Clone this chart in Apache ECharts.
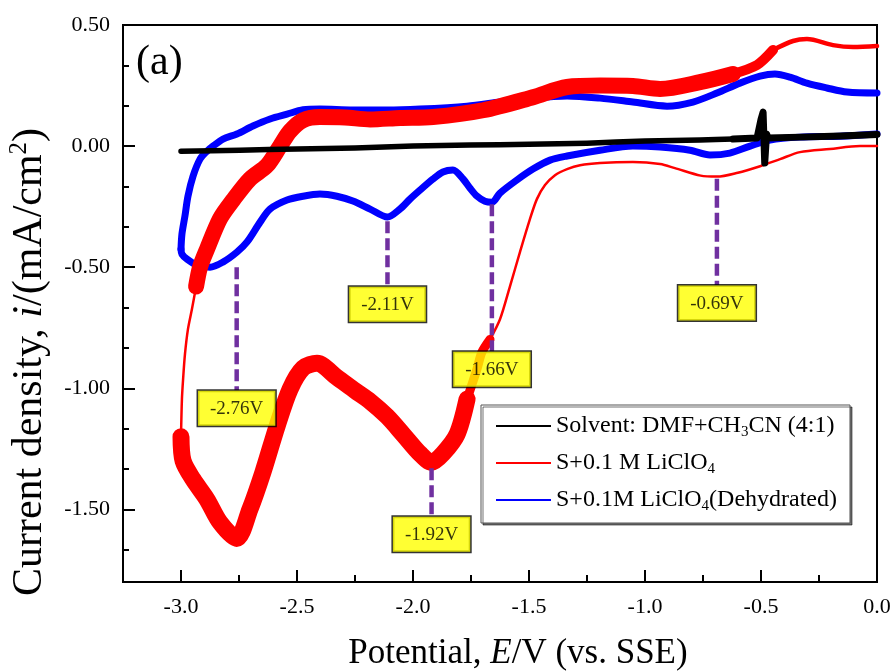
<!DOCTYPE html>
<html>
<head>
<meta charset="utf-8">
<script src="https://cdn.jsdelivr.net/npm/echarts@6/dist/echarts.min.js"></script>
<style>
  html, body { margin: 0; padding: 0; background: #ffffff; }
  #chart { width: 896px; height: 672px; }
</style>
</head>
<body>
<div id="chart"></div>
<script>
// Cyclic voltammograms: potential E (V vs. SSE) against current density i (mA/cm2)

// Axis ticks
const potentialTicks = [-3.0, -2.5, -2.0, -1.5, -1.0, -0.5, 0.0];
const potentialMinorTicks = [-2.75, -2.25, -1.75, -1.25, -0.75, -0.25];
const currentTicks = [-1.5, -1.0, -0.5, 0.0, 0.5];

// Solvent only: DMF + CH3CN (4:1)
const solventScan = [
  [-3.000, -0.021], [-2.746, -0.017], [-2.500, -0.012], [-2.250, -0.008], [-2.000, 0.000],
  [-1.754, 0.004], [-1.500, 0.008], [-1.250, 0.012], [-1.000, 0.021], [-0.763, 0.025], [-0.620, 0.029]
];
const solventNoisyEnd = [
  [-0.620, 0.029], [-0.517, 0.033], [-0.500, 0.110], [-0.491, 0.140], [-0.484, -0.070],
  [-0.476, 0.050], [-0.470, 0.033], [-0.332, 0.037], [-0.159, 0.042], [0.000, 0.048]
];

// S + 0.1 M LiClO4, cathodic sweep (0 V -> -3.0 V)
const liCathodicThin = [
  [0.000, 0.000], [-0.073, 0.000], [-0.203, -0.012], [-0.332, -0.025], [-0.418, -0.054],
  [-0.504, -0.083], [-0.600, -0.110], [-0.690, -0.126], [-0.760, -0.122], [-0.871, -0.091],
  [-0.935, -0.074], [-1.052, -0.066], [-1.194, -0.070], [-1.280, -0.079], [-1.336, -0.095],
  [-1.388, -0.120], [-1.431, -0.161], [-1.466, -0.219], [-1.496, -0.302], [-1.539, -0.438],
  [-1.582, -0.579], [-1.625, -0.715], [-1.668, -0.798]
];
const liCathodicShoulder = [
  [-1.668, -0.798], [-1.703, -0.851], [-1.724, -0.920], [-1.767, -1.045]
];
const liCathodicBand = [
  [-1.767, -1.045], [-1.810, -1.190], [-1.871, -1.270], [-1.920, -1.306], [-1.970, -1.270],
  [-2.043, -1.190], [-2.112, -1.116], [-2.185, -1.054], [-2.250, -1.010], [-2.328, -0.955],
  [-2.414, -0.897], [-2.474, -0.917], [-2.530, -1.004], [-2.586, -1.157], [-2.647, -1.347],
  [-2.703, -1.500], [-2.760, -1.620], [-2.832, -1.554], [-2.888, -1.459], [-2.948, -1.376],
  [-2.991, -1.300], [-3.000, -1.200]
];
// S + 0.1 M LiClO4, anodic sweep (-3.0 V -> 0 V)
const liAnodicThin = [
  [-3.000, -1.200], [-2.996, -1.045], [-2.991, -0.963], [-2.983, -0.860], [-2.970, -0.756],
  [-2.953, -0.674], [-2.935, -0.580]
];
const liAnodicBand = [
  [-2.935, -0.580], [-2.918, -0.500], [-2.888, -0.426], [-2.832, -0.300], [-2.776, -0.223],
  [-2.703, -0.136], [-2.629, -0.080], [-2.573, 0.000], [-2.530, 0.062], [-2.474, 0.107],
  [-2.401, 0.120], [-2.293, 0.118], [-2.185, 0.110], [-2.056, 0.116], [-1.914, 0.120],
  [-1.698, 0.148], [-1.483, 0.202], [-1.336, 0.244], [-1.194, 0.250], [-1.052, 0.248],
  [-0.935, 0.236], [-0.763, 0.264], [-0.621, 0.298]
];
const liAnodicShoulder = [
  [-0.621, 0.298], [-0.517, 0.335], [-0.448, 0.397]
];
const liAnodicTail = [
  [-0.448, 0.397], [-0.362, 0.434], [-0.302, 0.442], [-0.190, 0.417], [-0.103, 0.409], [0.000, 0.413]
];

// S + 0.1 M LiClO4 (dehydrated), full cycle
const dryCathodic = [
  [0.000, 0.050], [-0.159, 0.041], [-0.332, 0.037], [-0.461, 0.025], [-0.547, 0.000],
  [-0.634, -0.029], [-0.720, -0.037], [-0.806, -0.017], [-0.935, -0.004], [-1.052, 0.000],
  [-1.194, -0.017], [-1.336, -0.041], [-1.409, -0.058], [-1.483, -0.095], [-1.552, -0.140],
  [-1.625, -0.194], [-1.660, -0.232], [-1.690, -0.228], [-1.724, -0.207], [-1.754, -0.174],
  [-1.784, -0.136], [-1.828, -0.099], [-1.871, -0.107], [-1.914, -0.136], [-1.970, -0.182],
  [-2.013, -0.219], [-2.056, -0.260], [-2.110, -0.293], [-2.185, -0.260], [-2.259, -0.227],
  [-2.328, -0.207], [-2.401, -0.198], [-2.474, -0.207], [-2.543, -0.223], [-2.616, -0.260],
  [-2.659, -0.314], [-2.716, -0.397], [-2.759, -0.438], [-2.819, -0.479], [-2.875, -0.500],
  [-2.931, -0.492], [-2.974, -0.467], [-2.996, -0.446], [-3.000, -0.426]
];
const dryAnodic = [
  [-3.000, -0.426], [-2.996, -0.364], [-2.983, -0.289], [-2.970, -0.207], [-2.948, -0.124],
  [-2.918, -0.054], [-2.888, -0.021], [-2.862, 0.000], [-2.819, 0.029], [-2.759, 0.050],
  [-2.690, 0.083], [-2.616, 0.112], [-2.543, 0.132], [-2.474, 0.150], [-2.401, 0.153],
  [-2.259, 0.149], [-2.112, 0.149], [-1.970, 0.153], [-1.767, 0.165], [-1.625, 0.182],
  [-1.483, 0.198], [-1.336, 0.207], [-1.194, 0.198], [-1.052, 0.182], [-0.905, 0.165],
  [-0.793, 0.182], [-0.690, 0.219], [-0.591, 0.260], [-0.504, 0.289], [-0.440, 0.298],
  [-0.375, 0.285], [-0.302, 0.260], [-0.216, 0.240], [-0.129, 0.223], [0.000, 0.219]
];

// Peak annotations
const peakLabels = ['-2.76V', '-2.11V', '-1.92V', '-1.66V', '-0.69V'];
const peakPotentials = [-2.76, -2.11, -1.92, -1.66, -0.69];
const peakCurrents = [-0.50, -0.31, -1.33, -0.24, -0.135];
const calloutLevels = [-1.008, -0.579, -1.529, -0.847, -0.574];

const solventName = 'Solvent: DMF+CH3CN (4:1)';
const liName = 'S+0.1 M LiClO4';
const dryName = 'S+0.1M LiClO4(Dehydrated)';
const legendLabels = {};
legendLabels[solventName] = 'Solvent: DMF+CH{sub|3}CN (4:1)';
legendLabels[liName] = 'S+0.1 M LiClO{sub|4}';
legendLabels[dryName] = 'S+0.1M LiClO{sub|4}(Dehydrated)';

const SERIF = '"Liberation Serif", "Times New Roman", serif';
const RED = '#ff0000', BLUE = '#0000ff', BLACK = '#000000', PURPLE = '#7030a0';

function curve(name, data, color, width, z, smooth) {
  return {
    type: 'line', name: name, data: data, z: z,
    symbol: 'none', showSymbol: false, silent: true, animation: false,
    smooth: smooth || false,
    lineStyle: { color: color, width: width, cap: 'round', join: 'round' },
    itemStyle: { color: color }
  };
}

const currentMinorTicks = [];
for (let k = 0; k < currentTicks.length - 1; k++) {
  const a = currentTicks[k], step = (currentTicks[k + 1] - a) / 3;
  currentMinorTicks.push(a + step, a + 2 * step);
}
currentMinorTicks.push(currentTicks[0] - (currentTicks[1] - currentTicks[0]) / 3);

const series = [
  curve(solventName, solventScan, BLACK, 5.5, 6, 0.2),
  curve(solventName, solventNoisyEnd, BLACK, 7, 6),
  curve(liName, liCathodicThin, RED, 2.5, 4, 0.3),
  curve(liName, liCathodicShoulder, RED, 9, 4, 0.3),
  curve(liName, liCathodicBand, RED, 17, 4, 0.3),
  curve(liName, liAnodicThin, RED, 2.5, 4, 0.3),
  curve(liName, liAnodicBand, RED, 16, 4, 0.3),
  curve(liName, liAnodicShoulder, RED, 10, 4, 0.3),
  curve(liName, liAnodicTail, RED, 4.5, 4, 0.3),
  curve(dryName, dryCathodic, BLUE, 7, 3, 0.3),
  curve(dryName, dryAnodic, BLUE, 7, 3, 0.3)
];

peakPotentials.forEach(function (e, k) {
  series.push({
    type: 'line', z: 8, silent: true, animation: false,
    symbol: 'none', showSymbol: false,
    data: [[e, peakCurrents[k]], [e, calloutLevels[k]]],
    lineStyle: { color: PURPLE, width: 4.5, type: [12, 5] }
  });
});

series.push({
  type: 'scatter', z: 9, silent: true, animation: false,
  symbol: 'circle', symbolSize: 1, itemStyle: { color: 'rgba(0,0,0,0)' },
  data: peakPotentials.map(function (e, k) { return [e, calloutLevels[k], peakLabels[k]]; }),
  label: {
    show: true, position: 'bottom', distance: 0,
    formatter: function (p) { return p.data[2]; },
    fontFamily: SERIF, fontSize: 19, lineHeight: 20, color: '#000',
    backgroundColor: '#ffff00', borderColor: '#000', borderWidth: 1.5,
    padding: [8, 12, 7, 12]
  }
});

const axisLineStyle = { color: '#000', width: 2 };

const option = {
  backgroundColor: '#ffffff',
  animation: false,
  grid: {
    left: 123, top: 25, width: 754, height: 557,
    show: true, borderColor: '#000', borderWidth: 2,
    outerBoundsMode: 'none'
  },
  xAxis: [
    {
      type: 'value', min: -3.25, max: 0, position: 'bottom',
      axisLine: { show: true, onZero: false, lineStyle: axisLineStyle },
      axisTick: { show: true, inside: true, length: 12, lineStyle: axisLineStyle, customValues: potentialTicks },
      axisLabel: {
        customValues: potentialTicks, hideOverlap: false,
        formatter: function (v) { return Number(v).toFixed(1); },
        color: '#000', fontFamily: SERIF, fontSize: 22, margin: 14
      },
      splitLine: { show: false }
    },
    {
      type: 'value', min: -3.25, max: 0, position: 'bottom',
      axisLine: { show: false, onZero: false },
      axisTick: { show: true, inside: true, length: 7, lineStyle: axisLineStyle, customValues: potentialMinorTicks },
      axisLabel: { show: false },
      splitLine: { show: false }
    }
  ],
  yAxis: [
    {
      type: 'value', min: -1.8, max: 0.5, position: 'left',
      axisLine: { show: true, onZero: false, lineStyle: axisLineStyle },
      axisTick: { show: true, inside: true, length: 12, lineStyle: axisLineStyle, customValues: currentTicks },
      axisLabel: {
        customValues: currentTicks, hideOverlap: false,
        formatter: function (v) { return Number(v).toFixed(2); },
        color: '#000', fontFamily: SERIF, fontSize: 22, margin: 13
      },
      splitLine: { show: false }
    },
    {
      type: 'value', min: -1.8, max: 0.5, position: 'left',
      axisLine: { show: false, onZero: false },
      axisTick: { show: true, inside: true, length: 6, lineStyle: axisLineStyle, customValues: currentMinorTicks },
      axisLabel: { show: false },
      splitLine: { show: false }
    }
  ],
  legend: {
    data: [solventName, liName, dryName],
    orient: 'vertical', left: 481, top: 405,
    padding: [7, 13, 9, 15],
    icon: 'rect', itemWidth: 55, itemHeight: 2, itemGap: 9,
    selectedMode: false,
    backgroundColor: '#ffffff', borderColor: '#555555', borderWidth: 1,
    shadowColor: 'rgba(0,0,0,0.55)', shadowOffsetX: 2, shadowOffsetY: 2, shadowBlur: 0,
    formatter: function (name) { return legendLabels[name]; },
    textStyle: {
      fontFamily: SERIF, fontSize: 24, lineHeight: 28, color: '#000',
      rich: {
        sub: { fontFamily: SERIF, fontSize: 15, lineHeight: 14, verticalAlign: 'bottom', color: '#000' }
      }
    }
  },
  graphic: [
    {
      type: 'text', left: 136, top: 42, silent: true,
      style: { text: '(a)', fontFamily: SERIF, fontSize: 42, fill: '#000' }
    },
    {
      type: 'text', x: 518, y: 654, silent: true,
      style: {
        text: 'Potential, {it|E}/V (vs. SSE)',
        fontFamily: SERIF, fontSize: 35, fill: '#000', align: 'center', verticalAlign: 'middle',
        rich: { it: { fontFamily: SERIF, fontSize: 35, fontStyle: 'italic', fill: '#000' } }
      }
    },
    {
      type: 'text', x: 30, y: 362, rotation: Math.PI / 2, silent: true,
      style: {
        text: 'Current density, {it|i}/(mA/cm{sup|2})',
        fontFamily: SERIF, fontSize: 42, lineHeight: 46, fill: '#000', align: 'center', verticalAlign: 'middle',
        rich: {
          it: { fontFamily: SERIF, fontSize: 42, lineHeight: 46, fontStyle: 'italic', fill: '#000' },
          sup: { fontFamily: SERIF, fontSize: 25, lineHeight: 25, verticalAlign: 'top', fill: '#000' }
        }
      }
    }
  ],
  series: series
};

const chart = echarts.init(document.getElementById('chart'), null, { renderer: 'canvas' });
chart.setOption(option);
</script>
</body>
</html>
